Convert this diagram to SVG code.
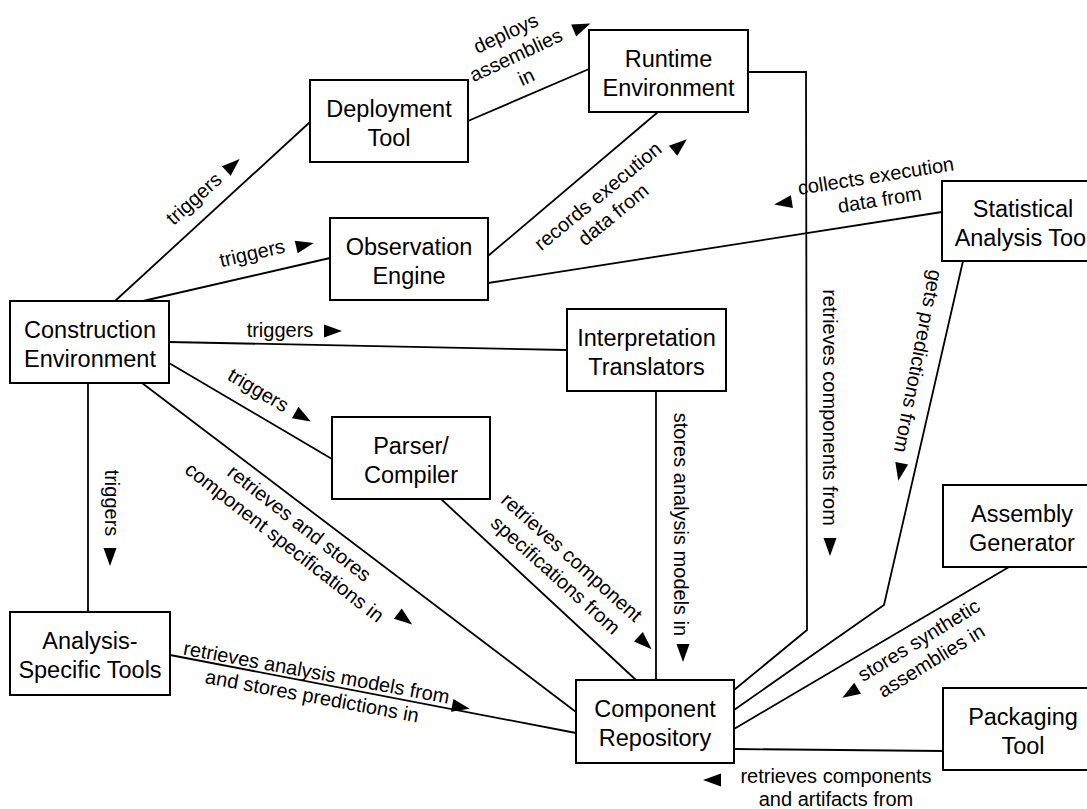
<svg xmlns="http://www.w3.org/2000/svg" width="1087" height="809" viewBox="0 0 1087 809">
<style>
.node rect{fill:#fff;stroke:#000;stroke-width:2}
.node text{font-family:"Liberation Sans",Arial,Helvetica,sans-serif;font-size:23.5px;text-anchor:middle;fill:#000}
.edge{fill:none;stroke:#000;stroke-width:1.8}
.lbl{font-family:"Liberation Sans",Arial,Helvetica,sans-serif;font-size:20px;text-anchor:middle;fill:#000}
.ah{fill:#000}
</style>
<defs>
<path id="ah" d="M-9,-6.5 L9,0 L-9,6.5 Z"/>
</defs>
<rect width="1087" height="809" fill="#fff"/>
<g id="connectors">
<path class="edge" d="M115,301 L310,122"/>
<path class="edge" d="M143,301 L330,258"/>
<path class="edge" d="M169,342 L567,350"/>
<path class="edge" d="M169,363 L332,459"/>
<path class="edge" d="M88,383 L88,612"/>
<path class="edge" d="M142,383 L576,712"/>
<path class="edge" d="M441,499 L636,680"/>
<path class="edge" d="M656,391 L656,680"/>
<path class="edge" d="M748,72 L806,72 L807,630 L734,690"/>
<path class="edge" d="M963,261 L884,605 L734,710"/>
<path class="edge" d="M488,256 L658,112"/>
<path class="edge" d="M468,121 L589,69"/>
<path class="edge" d="M488,283 L942,212"/>
<path class="edge" d="M170,655 L576,733"/>
<path class="edge" d="M1009,567 L734,729"/>
<path class="edge" d="M734,749 L943,751"/>

<g class="lbl" transform="translate(195,200) rotate(-42)"><text y="5">triggers</text></g>
<use href="#ah" class="ah" transform="translate(233,165) rotate(-42)"/>
<g class="lbl" transform="translate(252.5,255) rotate(-13)"><text y="5">triggers</text></g>
<use href="#ah" class="ah" transform="translate(305,245) rotate(-13)"/>
<text class="lbl" x="280" y="337">triggers</text>
<use href="#ah" class="ah" transform="translate(333,331)"/>
<g class="lbl" transform="translate(257.5,391.5) rotate(30.5)"><text y="5">triggers</text></g>
<use href="#ah" class="ah" transform="translate(303,417) rotate(30)"/>
<g class="lbl" transform="translate(110,503) rotate(90)"><text y="5">triggers</text></g>
<use href="#ah" class="ah" transform="translate(110,557) rotate(90)"/>
<g class="lbl" transform="translate(290.8,534.2) rotate(38)"><text y="-7">retrieves and stores</text><text y="17">component specifications in</text></g>
<use href="#ah" class="ah" transform="translate(405,619) rotate(37)"/>
<g class="lbl" transform="translate(562.5,567.5) rotate(42)"><text y="-7">retrieves component</text><text y="17">specifications from</text></g>
<use href="#ah" class="ah" transform="translate(645,643) rotate(43)"/>
<g class="lbl" transform="translate(679,524.5) rotate(90)"><text y="5">stores analysis models in</text></g>
<use href="#ah" class="ah" transform="translate(683,653) rotate(90)"/>
<g class="lbl" transform="translate(828,407.5) rotate(90)"><text y="5">retrieves components from</text></g>
<use href="#ah" class="ah" transform="translate(830,547) rotate(90)"/>
<g class="lbl" transform="translate(916.5,361) rotate(101)"><text y="5">gets predictions from</text></g>
<use href="#ah" class="ah" transform="translate(900,472) rotate(101)"/>
<g class="lbl" transform="translate(606.7,206.7) rotate(-39.5)"><text y="-7">records execution</text><text y="17">data from</text></g>
<use href="#ah" class="ah" transform="translate(680,145) rotate(-40)"/>
<g class="lbl" transform="translate(516.7,56.7) rotate(-25)"><text y="-19">deploys</text><text y="5">assemblies</text><text y="29">in</text></g>
<use href="#ah" class="ah" transform="translate(582,27) rotate(-23)"/>
<g class="lbl" transform="translate(878,189.5) rotate(-9)"><text y="-7">collects execution</text><text y="17">data from</text></g>
<use href="#ah" class="ah" transform="translate(783,203) rotate(171)"/>
<g class="lbl" transform="translate(314,686) rotate(10.5)"><text y="-7">retrieves analysis models from</text><text y="17">and stores predictions in</text></g>
<use href="#ah" class="ah" transform="translate(461,707) rotate(11)"/>
<g class="lbl" transform="translate(926,652) rotate(-31.5)"><text y="-7">stores synthetic</text><text y="17">assemblies in</text></g>
<use href="#ah" class="ah" transform="translate(850,693) rotate(148)"/>
<text class="lbl" x="836" y="783">retrieves components</text>
<text class="lbl" x="836" y="806">and artifacts from</text>
<use href="#ah" class="ah" transform="translate(712,780) rotate(180)"/>
</g>

<g id="deployment-tool" class="node"><rect x="310" y="80" width="158" height="82"/><text x="389" y="117">Deployment</text><text x="389" y="146">Tool</text></g>
<g id="runtime-environment" class="node"><rect x="589" y="30" width="159" height="82"/><text x="668.5" y="67">Runtime</text><text x="668.5" y="96">Environment</text></g>
<g id="observation-engine" class="node"><rect x="330" y="218" width="158" height="82"/><text x="409" y="255">Observation</text><text x="409" y="284">Engine</text></g>
<g id="statistical-analysis-tool" class="node"><rect x="942" y="181" width="162" height="80"/><text x="1023" y="217">Statistical</text><text x="1023" y="246">Analysis Tool</text></g>
<g id="construction-environment" class="node"><rect x="10" y="301" width="159" height="82"/><text x="90" y="338">Construction</text><text x="90" y="367">Environment</text></g>
<g id="interpretation-translators" class="node"><rect x="567" y="309" width="159" height="82"/><text x="646.5" y="346">Interpretation</text><text x="646.5" y="375">Translators</text></g>
<g id="parser-compiler" class="node"><rect x="332" y="417" width="158" height="82"/><text x="411" y="454">Parser/</text><text x="411" y="483">Compiler</text></g>
<g id="assembly-generator" class="node"><rect x="943" y="485" width="160" height="82"/><text x="1022" y="522">Assembly</text><text x="1022" y="551">Generator</text></g>
<g id="analysis-specific-tools" class="node"><rect x="10" y="612" width="160" height="83"/><text x="90" y="649">Analysis-</text><text x="90" y="678">Specific Tools</text></g>
<g id="component-repository" class="node"><rect x="576" y="680" width="158" height="83"/><text x="655" y="717">Component</text><text x="655" y="746">Repository</text></g>
<g id="packaging-tool" class="node"><rect x="943" y="688" width="160" height="82"/><text x="1023" y="725">Packaging</text><text x="1023" y="754">Tool</text></g>
</svg>
